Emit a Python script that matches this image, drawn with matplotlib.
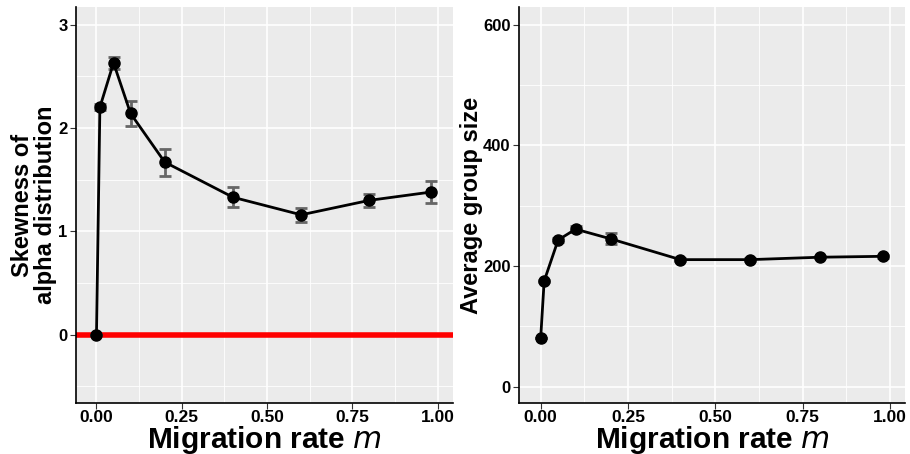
import matplotlib
matplotlib.use("Agg")
import matplotlib.pyplot as plt
import numpy as np
from matplotlib.ticker import MultipleLocator

plt.rcParams['font.family'] = ['Liberation Sans', 'DejaVu Sans']

m = [0.0, 0.01, 0.05, 0.1, 0.2, 0.4, 0.6, 0.8, 0.98]
skew = [0.0, 2.20, 2.63, 2.14, 1.67, 1.33, 1.16, 1.30, 1.38]
skew_err = [0.0, 0.03, 0.06, 0.12, 0.13, 0.095, 0.07, 0.065, 0.11]
size = [80, 175, 243, 261, 245, 210.5, 210.5, 214.5, 216]
size_err = [0, 2, 3, 5, 9, 2, 2, 2, 2]

xticks = [0.0, 0.25, 0.5, 0.75, 1.0]
xticklabels = ["0.00", "0.25", "0.50", "0.75", "1.00"]

fig = plt.figure(figsize=(9.1, 4.54), dpi=100)
ax1 = fig.add_axes([76/910, 51/454, 377/910, 396/454])
ax2 = fig.add_axes([519/910, 51/454, 386/910, 396/454])

def style(ax):
    ax.set_facecolor('#EBEBEB')
    for s in ['top', 'right']:
        ax.spines[s].set_visible(False)
    for s in ['left', 'bottom']:
        ax.spines[s].set_color('black')
        ax.spines[s].set_linewidth(1.2)
    ax.grid(which='major', color='white', linewidth=1.2)
    ax.grid(which='minor', color='white', linewidth=0.6)
    ax.set_axisbelow(True)
    ax.tick_params(which='major', length=4, color='#333333', labelsize=12, labelcolor='black', pad=2)
    ax.tick_params(axis='x', which='major', labelsize=12.5, pad=1)
    ax.tick_params(which='minor', length=0)
    for lab in ax.get_xticklabels() + ax.get_yticklabels():
        lab.set_fontweight('bold')
    ax.set_xlabel('Migration rate $\\mathit{m}$', fontsize=21.5, fontweight='bold', labelpad=-1)
    ax.xaxis.set_minor_locator(MultipleLocator(0.125))

# left
ax1.axhline(0, color='red', linewidth=4, zorder=2)
ax1.errorbar(m, skew, yerr=skew_err, fmt='none', ecolor='#666666', elinewidth=2, capsize=4, capthick=2, zorder=3)
ax1.plot(m, skew, color='black', linewidth=2, marker='o', markersize=8, zorder=4)
ax1.set_xlim(-0.06, 1.045)
ax1.set_ylim(-0.66, 3.17)
ax1.set_xticks(xticks)
ax1.set_xticklabels(xticklabels)
ax1.set_yticks([0, 1, 2, 3])
ax1.yaxis.set_minor_locator(MultipleLocator(0.5))
ax1.set_ylabel('Skewness of\nalpha distribution', fontsize=17, fontweight='bold', labelpad=1, linespacing=1.0)
style(ax1)

# right
ax2.errorbar(m, size, yerr=size_err, fmt='none', ecolor='#666666', elinewidth=2, capsize=4, capthick=2, zorder=3)
ax2.plot(m, size, color='black', linewidth=2, marker='o', markersize=8, zorder=4)
ax2.set_xlim(-0.062, 1.043)
ax2.set_ylim(-27, 629)
ax2.set_xticks(xticks)
ax2.set_xticklabels(xticklabels)
ax2.set_yticks([0, 200, 400, 600])
ax2.yaxis.set_minor_locator(MultipleLocator(100))
ax2.set_ylabel('Average group size', fontsize=17, fontweight='bold', labelpad=0)
style(ax2)

fig.savefig('out.png', dpi=100)
